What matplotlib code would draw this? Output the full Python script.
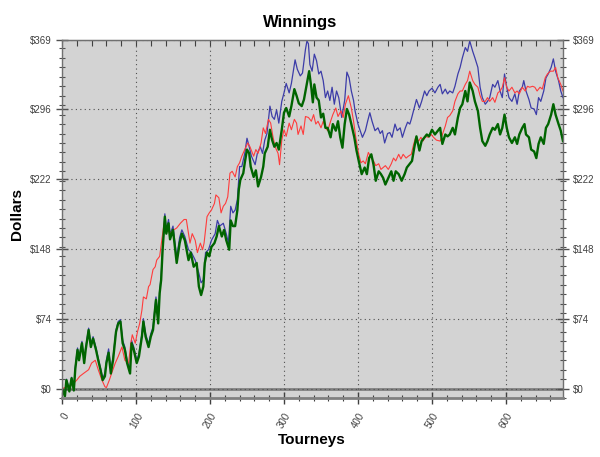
import matplotlib
matplotlib.use('Agg')
import matplotlib.pyplot as plt
from matplotlib.ticker import MultipleLocator

plt.rcParams['font.family'] = ['Liberation Sans', 'DejaVu Sans']

# values (tourney, dollars)
green_t = [0, 4, 6, 10, 13, 16, 18, 21, 23, 27, 30, 32, 36, 39, 42, 46, 49, 52, 55, 58, 60, 63, 66, 69, 73, 76, 79, 82, 85, 88,
           92, 94, 97, 101, 104, 108, 110, 113, 117, 120, 123, 127, 130, 132, 134, 136, 139, 141, 144, 146, 150, 153, 155, 159, 162,
           166, 171, 174, 178, 182, 185, 188, 191, 193, 196, 199, 202, 206, 209, 212, 216, 219, 222, 226, 228, 231, 234, 237, 239,
           241, 245, 247, 250, 253, 255, 259, 262, 265, 269, 272, 274, 278, 281, 284, 287, 290, 293, 297, 300, 303, 307, 310, 314,
           317, 320, 324, 327, 331, 334, 337, 339, 341, 344, 347, 350, 353, 356, 359, 363, 366, 370, 373, 376, 379, 382, 385, 388,
           391, 395, 398, 401, 405, 409, 412, 415, 418, 421, 424, 428, 431, 434, 437, 441, 445, 448, 451, 455, 459, 463, 466, 469,
           473, 476, 479, 483, 486, 490, 493, 496, 500, 504, 508, 511, 514, 518, 521, 524, 528, 531, 535, 538, 541, 545, 548, 551,
           555, 558, 562, 565, 568, 572, 575, 578, 582, 585, 589, 592, 595, 598, 601, 604, 608, 612, 615, 618, 622, 625, 627, 631,
           634, 638, 641, 644, 647, 651, 654, 657, 661, 664, 667, 671, 674, 677]
green_v = [0, -8, 9, -3, 11, -2, 21, 41, 30, 48, 27, 41, 62, 44, 53, 41, 30, 20, 9, 13, 27, 38, 16, 30, 60, 69, 71, 48, 41, 27,
           16, 48, 41, 27, 34, 55, 71, 55, 44, 55, 62, 94, 69, 101, 115, 147, 182, 164, 175, 158, 168, 147, 133, 154, 164,
           157, 136, 144, 129, 133, 108, 99, 108, 133, 144, 140, 150, 154, 161, 172, 161, 168, 157, 147, 178, 172, 172, 189, 211,
           221, 228, 239, 253, 249, 235, 224, 231, 214, 224, 235, 249, 256, 274, 263, 256, 260, 253, 274, 292, 297, 288, 299, 317,
           310, 302, 299, 306, 323, 336, 318, 303, 322, 308, 305, 287, 291, 276, 276, 266, 280, 273, 283, 266, 255, 280, 296, 290,
           280, 266, 252, 241, 227, 234, 227, 244, 248, 237, 220, 230, 227, 223, 216, 223, 230, 220, 230, 227, 220, 227, 234, 237,
           241, 255, 267, 252, 262, 266, 269, 267, 274, 269, 273, 276, 259, 269, 267, 269, 276, 269, 287, 297, 301, 315, 304, 324,
           315, 304, 294, 276, 262, 257, 262, 269, 276, 274, 280, 269, 276, 290, 276, 266, 260, 266, 259, 269, 276, 280, 269, 266,
           253, 251, 244, 259, 266, 259, 276, 280, 290, 301, 290, 280, 273, 262]

red_t = [0, 8, 15, 20, 24, 29, 36, 40, 45, 49, 54, 58, 60, 64, 67, 72, 76, 81, 85, 90, 93, 95, 99, 102, 105, 108, 110, 114, 117,
         119, 123, 126, 128, 132, 135, 138, 142, 146, 151, 155, 160, 165, 168, 171, 173, 176, 180, 183, 187, 190, 192, 196, 199,
         202, 206, 208, 212, 215, 218, 221, 224, 227, 230, 234, 237, 240, 243, 247, 251, 254, 259, 262, 265, 269, 272, 275, 279,
         282, 285, 288, 292, 294, 297, 300, 303, 307, 310, 314, 317, 319, 323, 326, 329, 333, 337, 340, 343, 346, 350, 353, 356,
         359, 363, 366, 370, 373, 377, 380, 383, 387, 391, 394, 397, 401, 404, 407, 410, 414, 418, 421, 424, 428, 431, 434, 437,
         441, 445, 448, 451, 455, 458, 461, 465, 468, 472, 475, 478, 482, 485, 488, 491, 495, 499, 502, 506, 511, 514, 518, 521,
         524, 528, 531, 535, 538, 541, 545, 548, 551, 555, 558, 562, 565, 568, 572, 575, 578, 582, 585, 589, 592, 595, 598, 601,
         604, 608, 612, 615, 618, 622, 626, 629, 632, 636, 639, 642, 646, 649, 653, 656, 660, 664, 667, 670, 674, 677]
red_v = [0, 2, 5, 9, 13, 16, 20, 27, 30, 20, 9, 2, 1, 9, 16, 27, 34, 44, 30, 27, 48, 57, 48, 60, 69, 83, 97, 95, 108,
         110, 126, 129, 136, 140, 158, 175, 168, 164, 168, 170, 175, 179, 179, 164, 154, 164, 157, 144, 154, 147, 154, 182, 186,
         189, 196, 205, 202, 186, 193, 196, 203, 228, 230, 224, 235, 239, 246, 253, 260, 256, 246, 253, 249, 260, 276, 270, 285,
         281, 267, 256, 249, 237, 263, 274, 267, 281, 274, 285, 281, 269, 278, 269, 288, 287, 283, 290, 280, 283, 276, 283, 276,
         273, 283, 290, 297, 288, 294, 287, 301, 310, 297, 283, 266, 248, 239, 241, 238, 250, 244, 241, 236, 238, 232, 234, 236,
         232, 238, 244, 241, 248, 243, 248, 244, 246, 248, 258, 266, 262, 266, 262, 267, 266, 269, 266, 263, 262, 269, 278, 287,
         289, 294, 304, 312, 315, 315, 322, 326, 336, 326, 322, 319, 310, 304, 304, 308, 304, 308, 303, 313, 315, 319, 329, 319,
         315, 319, 313, 315, 312, 319, 315, 320, 319, 320, 319, 315, 319, 317, 329, 333, 336, 336, 340, 329, 322, 315]

blue_t = [0, 4, 6, 10, 13, 16, 18, 21, 23, 27, 30, 32, 36, 39, 42, 46, 49, 52, 55, 58, 60, 63, 66, 69, 73, 76, 79, 82, 85, 88,
          92, 94, 97, 101, 104, 108, 110, 113, 117, 120, 123, 127, 130, 132, 134, 136, 139, 141, 144, 146, 150, 153, 155, 159, 162,
          166, 171, 175, 180, 185, 188, 191, 194, 198, 202, 207, 210, 213, 218, 222, 225, 228, 231, 234, 237, 240, 243, 247, 250,
          253, 256, 261, 264, 268, 271, 274, 277, 281, 284, 287, 290, 293, 297, 300, 303, 307, 310, 315, 318, 322, 325, 329, 331,
          333, 335, 338, 341, 344, 347, 350, 353, 356, 359, 362, 365, 368, 371, 374, 378, 382, 385, 388, 391, 394, 396, 400, 403,
          406, 410, 413, 416, 419, 423, 427, 430, 433, 436, 440, 443, 446, 450, 453, 457, 460, 464, 467, 470, 472, 476, 479, 483,
          486, 490, 493, 496, 500, 504, 508, 511, 514, 518, 521, 524, 528, 531, 535, 538, 541, 545, 548, 551, 555, 558, 562, 565,
          568, 572, 575, 578, 582, 585, 589, 592, 595, 598, 601, 604, 608, 612, 615, 618, 622, 624, 627, 631, 634, 638, 641, 644,
          647, 651, 654, 657, 661, 664, 667, 671, 674, 677]
blue_v = [0, -6, 10, -1, 12, 0, 23, 43, 32, 50, 29, 43, 64, 46, 55, 43, 32, 22, 11, 16, 30, 42, 20, 33, 62, 71, 73, 51, 44, 30,
          20, 51, 44, 30, 37, 58, 74, 58, 47, 58, 65, 97, 72, 104, 118, 150, 185, 168, 179, 163, 172, 152, 139, 160, 168,
          161, 147, 144, 136, 122, 112, 115, 144, 147, 157, 164, 178, 172, 175, 164, 154, 193, 186, 189, 200, 235, 235, 249, 265,
          256, 246, 237, 249, 256, 249, 263, 270, 299, 288, 285, 295, 281, 304, 313, 323, 313, 323, 348, 338, 331, 334, 359, 368,
          365, 343, 336, 354, 347, 333, 336, 326, 308, 315, 305, 319, 301, 315, 308, 287, 305, 335, 329, 315, 305, 294, 280, 273,
          266, 273, 283, 292, 283, 273, 276, 270, 273, 260, 270, 271, 266, 280, 273, 276, 266, 276, 282, 280, 285, 297, 306, 297,
          304, 315, 310, 315, 318, 313, 319, 322, 312, 317, 312, 315, 313, 320, 333, 340, 350, 361, 357, 368, 357, 350, 340, 319,
          308, 301, 304, 308, 322, 319, 326, 315, 308, 333, 319, 308, 304, 312, 301, 315, 319, 326, 315, 306, 297, 296, 290, 308,
          304, 315, 329, 333, 340, 349, 336, 326, 315, 308]

y_ticks = [0, 74, 148, 222, 296, 369]
y_labels = ['$0', '$74', '$148', '$222', '$296', '$369']

fig = plt.figure(figsize=(6, 4.57), dpi=100)
ax = fig.add_axes([0.1033, 0.129, 0.835, 0.7835])
ax.set_facecolor('#d3d3d3')

ax.axhline(0, color='#808080', lw=2, zorder=1.5)
ax.plot(blue_t, blue_v, color='#3c3ca8', lw=0.9, zorder=2)
ax.plot(red_t, red_v, color='#ff3c3c', lw=0.8, zorder=2.1)
ax.plot(green_t, green_v, color='#006400', lw=1.7, zorder=2.2)

ax.set_xlim(0, 677)
ax.set_ylim(-10, 369)
ax.xaxis.set_major_locator(MultipleLocator(100))
ax.xaxis.set_minor_locator(MultipleLocator(20))
ax.set_yticks(y_ticks)
ax.set_yticklabels(y_labels)
ax.yaxis.set_minor_locator(MultipleLocator(10))

ax.grid(True, which='major', linestyle=(0, (1, 3)), color='#505050', lw=0.8)

for side in ['left', 'right', 'top']:
    ax.spines[side].set_color('#707070')
    ax.spines[side].set_linewidth(1.0)
ax.spines['bottom'].set_color('#808080')
ax.spines['bottom'].set_linewidth(2.0)

ax.tick_params(axis='y', which='both', left=True, right=True, labelright=True,
               direction='inout', colors='#505050', labelsize=7, labelcolor='#404040')
ax.tick_params(axis='y', which='major', length=8, width=1.0)
ax.tick_params(axis='y', which='minor', length=5, width=0.8)
ax.tick_params(axis='x', which='both', direction='inout', colors='#404040', labelsize=7)
ax.tick_params(axis='x', which='major', length=9, width=1.0, pad=5)
ax.tick_params(axis='x', which='minor', length=5, width=0.8)
for lbl in ax.get_xticklabels():
    lbl.set_rotation(60)
    lbl.set_ha('right')
    lbl.set_rotation_mode('anchor')

top = ax.secondary_xaxis('top')
top.xaxis.set_major_locator(MultipleLocator(20))
top.tick_params(direction='in', length=4, width=0.8, colors='#404040', labeltop=False)
top.spines['top'].set_color('#707070')

fig.text(0.5, 1 - 22 / 457, 'Winnings', ha='center', va='center', fontsize=12, fontweight='bold')
fig.text(312 / 600, 1 - 440 / 457, 'Tourneys', ha='center', va='center', fontsize=11, fontweight='bold')
fig.text(17 / 600, 1 - 214 / 457, 'Dollars', ha='center', va='center', rotation=90, fontsize=11, fontweight='bold')

fig.savefig('out.png', dpi=100)
